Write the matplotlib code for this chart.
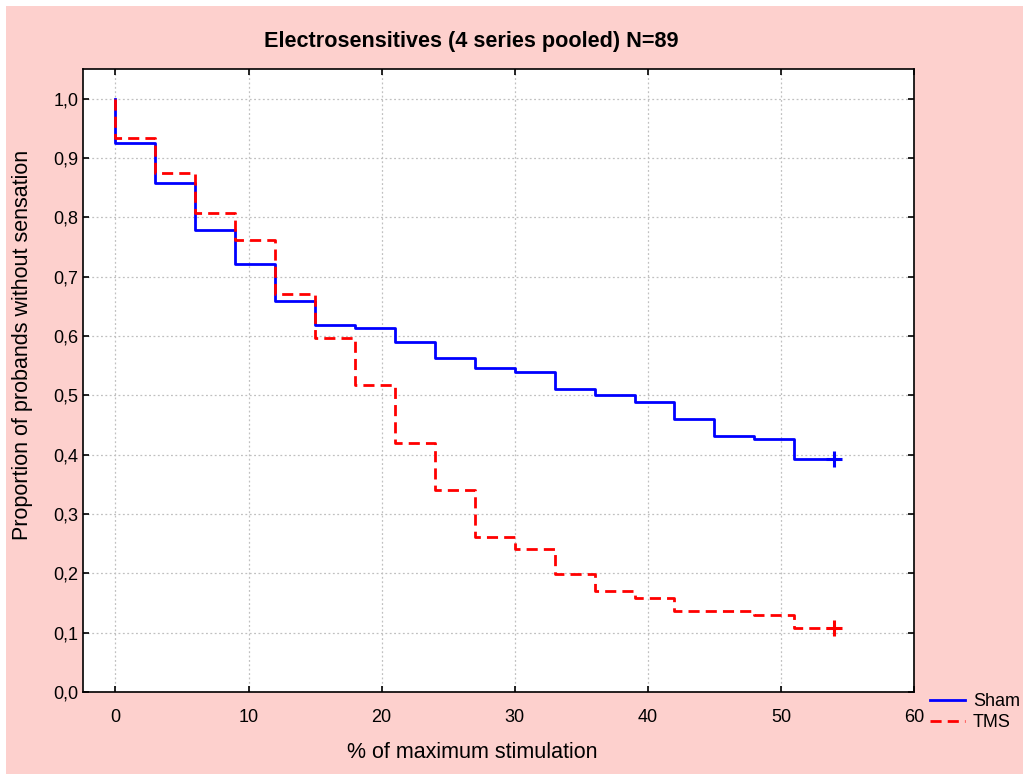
import numpy as np
import matplotlib
matplotlib.use("Agg")
import matplotlib.pyplot as plt
from matplotlib.patches import Rectangle
from matplotlib.ticker import FuncFormatter

plt.rcParams['font.family'] = ['Liberation Sans', 'DejaVu Sans']

# step start times (% of max stimulation), last step ends at censor time
times = [0, 3, 6, 9, 12, 15, 18, 21, 24, 27, 30, 33, 36, 39, 42, 45, 48, 51]
end_time = 54
sham = [0.926, 0.858, 0.779, 0.722, 0.659, 0.619, 0.614, 0.590, 0.563,
        0.546, 0.540, 0.511, 0.501, 0.489, 0.460, 0.432, 0.427, 0.393]
tms = [0.933, 0.875, 0.808, 0.762, 0.671, 0.597, 0.518, 0.420, 0.341,
       0.261, 0.241, 0.199, 0.170, 0.159, 0.137, 0.137, 0.130, 0.108]

title = "Electrosensitives (4 series pooled) N=89"
xlabel = "% of maximum stimulation"
ylabel = "Proportion of probands without sensation"

pink = '#fdd0cd'

fig = plt.figure(figsize=(10.23, 7.74), dpi=100, facecolor='white')
fig.patches.append(Rectangle((6/1023, 0), 1 - 6/1023, 1 - 6/774,
                             transform=fig.transFigure, facecolor=pink,
                             edgecolor='none', zorder=-10))

ax = fig.add_axes([83/1023, 1 - 692/774, (914 - 83)/1023, (692 - 69)/774])
ax.set_facecolor('white')


def curve(vals):
    x = [0] + times + [end_time]
    y = [1.0] + vals + [vals[-1]]
    return x, y


x, y = curve(sham)
ax.step(x, y, where='post', color='#0000ff', lw=2.0, label='Sham', zorder=3)
ax.plot(end_time, sham[-1], marker='+', color='#0000ff', ms=11, mew=2.2, zorder=4)

x, y = curve(tms)
ax.step(x, y, where='post', color='#ff0000', lw=2.0, ls=(0, (4, 2.2)),
        label='TMS', zorder=4)
ax.plot(end_time, tms[-1], marker='+', color='#ff0000', ms=11, mew=2.2, zorder=5)

ax.set_xlim(-2.44, 60)
ax.set_ylim(0, 1.05)
ax.set_xticks(np.arange(0, 61, 10))
ax.set_yticks(np.arange(0, 1.01, 0.1))
ax.yaxis.set_major_formatter(FuncFormatter(lambda v, p: f"{v:.1f}".replace('.', ',')))
ax.grid(True, ls=(0, (1.5, 2)), color='#c0c0c0', lw=0.9)
ax.tick_params(direction='in', top=True, right=True, length=4, labelsize=13,
               width=1.2)
ax.tick_params(axis='x', pad=12)
for s in ax.spines.values():
    s.set_linewidth(1.2)

fig.text(471/1023, 1 - 41/774, title, ha='center', va='center',
         fontsize=15.6, fontweight='bold')
fig.text(472/1023, 1 - 753/774, xlabel, ha='center', va='center', fontsize=15.5)
fig.text(23/1023, 1 - 345/774, ylabel, ha='center', va='center',
         rotation=90, fontsize=15.5)

fig.legend(loc='center left', bbox_to_anchor=(930/1023, 1 - 712/774),
           frameon=False, fontsize=13, handlelength=1.95, handletextpad=0.42,
           labelspacing=0.22, borderpad=0, borderaxespad=0)

fig.savefig('out.png', dpi=100, facecolor=fig.get_facecolor())
